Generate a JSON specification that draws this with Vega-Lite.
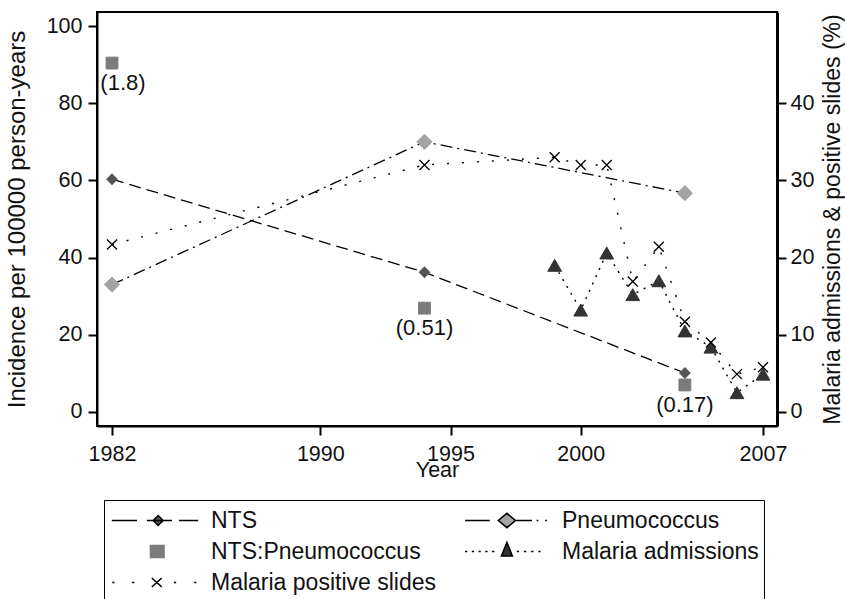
{
  "$schema": "https://vega.github.io/schema/vega-lite/v6.json",
  "width": 680,
  "height": 414,
  "autosize": {"type": "none"},
  "padding": {"left": 97, "top": 12, "right": 68, "bottom": 173},
  "background": "#ffffff",
  "config": {
    "view": {"stroke": "#000000", "strokeWidth": 2},
    "axis": {
      "grid": false,
      "domainColor": "#000000",
      "domainWidth": 2,
      "tickColor": "#000000",
      "tickWidth": 2,
      "tickSize": 9,
      "labelFont": "Liberation Sans",
      "labelFontSize": 21.5,
      "labelColor": "#111111",
      "titleFont": "Liberation Sans",
      "titleFontWeight": "normal",
      "titleColor": "#111111"
    }
  },
  "data": {
    "values": [
      {"series": "NTS", "year": 1982, "value": 60.3},
      {"series": "NTS", "year": 1994, "value": 36.2},
      {"series": "NTS", "year": 2004, "value": 10.1},
      {"series": "Pneumococcus", "year": 1982, "value": 33.0},
      {"series": "Pneumococcus", "year": 1994, "value": 70.0},
      {"series": "Pneumococcus", "year": 2004, "value": 56.7},
      {"series": "NTS:Pneumococcus", "year": 1982, "value": 90.4, "label": "(1.8)"},
      {"series": "NTS:Pneumococcus", "year": 1994, "value": 26.9, "label": "(0.51)"},
      {"series": "NTS:Pneumococcus", "year": 2004, "value": 7.0, "label": "(0.17)"},
      {"series": "Malaria positive slides", "year": 1982, "value": 21.7},
      {"series": "Malaria positive slides", "year": 1994, "value": 32.0},
      {"series": "Malaria positive slides", "year": 1999, "value": 33.0},
      {"series": "Malaria positive slides", "year": 2000, "value": 32.0},
      {"series": "Malaria positive slides", "year": 2001, "value": 32.0},
      {"series": "Malaria positive slides", "year": 2002, "value": 16.9},
      {"series": "Malaria positive slides", "year": 2003, "value": 21.4},
      {"series": "Malaria positive slides", "year": 2004, "value": 11.7},
      {"series": "Malaria positive slides", "year": 2005, "value": 9.0},
      {"series": "Malaria positive slides", "year": 2006, "value": 4.9},
      {"series": "Malaria positive slides", "year": 2007, "value": 5.8},
      {"series": "Malaria admissions", "year": 1999, "value": 19.0},
      {"series": "Malaria admissions", "year": 2000, "value": 13.2},
      {"series": "Malaria admissions", "year": 2001, "value": 20.6},
      {"series": "Malaria admissions", "year": 2002, "value": 15.2},
      {"series": "Malaria admissions", "year": 2003, "value": 17.0},
      {"series": "Malaria admissions", "year": 2004, "value": 10.5},
      {"series": "Malaria admissions", "year": 2005, "value": 8.4},
      {"series": "Malaria admissions", "year": 2006, "value": 2.5},
      {"series": "Malaria admissions", "year": 2007, "value": 4.9}
    ]
  },
  "encoding": {
    "x": {
      "field": "year",
      "type": "quantitative",
      "scale": {"domain": [1981.424, 2007.538], "nice": false, "zero": false},
      "axis": {
        "values": [1982, 1990, 1995, 2000, 2007],
        "format": "d",
        "title": "Year",
        "titleFontSize": 21.5,
        "titlePadding": -5,
        "labelPadding": 8,
        "labelFlush": false
      }
    }
  },
  "layer": [
    {
      "encoding": {
        "y": {
          "field": "value",
          "type": "quantitative",
          "scale": {"domain": [-3.63, 103.63], "nice": false, "zero": false},
          "axis": {
            "orient": "left",
            "values": [0, 20, 40, 60, 80, 100],
            "title": "Incidence per 100000 person-years",
            "titleFontSize": 24,
            "titlePadding": 17,
            "labelPadding": 6
          }
        }
      },
      "layer": [
        {
          "transform": [{"filter": "datum.series === 'NTS' || datum.series === 'Pneumococcus'"}],
          "mark": {"type": "line", "stroke": "#000000", "strokeWidth": 1.3},
          "encoding": {
            "strokeDash": {
              "field": "series",
              "type": "nominal",
              "scale": {
                "domain": ["NTS", "Pneumococcus", "Malaria admissions", "Malaria positive slides"],
                "range": [[12, 6], [12, 5, 2, 5], [2, 6], [2, 13]]
              },
              "legend": null
            }
          }
        },
        {
          "transform": [{"filter": "datum.year < 0"}],
          "mark": {"type": "point", "filled": true, "opacity": 1},
          "encoding": {
            "shape": {
              "field": "series", "type": "nominal",
              "scale": {
                "domain": ["NTS", "Pneumococcus", "NTS:Pneumococcus", "Malaria admissions", "Malaria positive slides"],
                "range": [
                  "M-1,-0.3M1,0.3M-0.96,0H-0.4M-0.18,0H0.38M0.53,0H0.96M0.07,-0.11L0.18,0L0.07,0.11L-0.04,0Z",
                  "M-1,-0.3M1,0.3M-0.91,0H-0.36M0.2,0H0.58M0.68,0H0.72M0.87,0H0.91M0.02,-0.16L0.21,0L0.02,0.16L-0.17,0Z",
                  "M-1,-0.3M1,0.3M-0.1,-0.13H0.2V0.13H-0.1Z",
                  "M-1,-0.3M1,0.3M-0.91,0h0.05M-0.76,0h0.05M-0.61,0h0.05M-0.46,0h0.05M-0.31,0h0.05M0.24,0h0.05M0.4,0h0.05M0.56,0h0.05M0.72,0h0.05M0.02,-0.2L0.14,0.1L-0.1,0.1Z",
                  "M-1,-0.3M1,0.3M-0.95,0h0.05M-0.51,0h0.05M0.42,0h0.05M0.87,0h0.05M-0.07,-0.1L0.15,0.1M-0.07,0.1L0.15,-0.1"
                ]
              }
            },
            "stroke": {
              "field": "series", "type": "nominal",
              "scale": {
                "domain": ["NTS", "Pneumococcus", "NTS:Pneumococcus", "Malaria admissions", "Malaria positive slides"],
                "range": ["#000000", "#000000", "#7b7b7b", "#000000", "#000000"]
              }
            }
          }
        },
        {
          "transform": [{"filter": "datum.series === 'NTS'"}],
          "mark": {"type": "point", "filled": true, "opacity": 1, "size": 140, "shape": "diamond"},
          "encoding": {
            "fill": {
              "field": "series", "type": "nominal",
              "scale": {"domain": ["NTS", "Pneumococcus", "NTS:Pneumococcus", "Malaria admissions", "Malaria positive slides"], "range": ["#555555", "#a3a3a3", "#7b7b7b", "#333333", "#000000"]},
              "legend": {
                "title": null,
                "orient": "none",
                "legendX": 7,
                "legendY": 488,
                "direction": "horizontal",
                "columns": 2,
                "columnPadding": 24,
                "rowPadding": 0,
                "clipHeight": 31,
                "symbolSize": 8100,
                "symbolStrokeWidth": 1.6,
                "symbolOpacity": 1,
                "labelFont": "Liberation Sans",
                "labelFontSize": 23,
                "labelColor": "#111111",
                "labelOffset": 10,
                "labelLimit": 400,
                "padding": 5,
                "strokeColor": "#000000",
                "fillColor": "#ffffff",
                "encode": {
                  "legend": {"strokeWidth": {"value": 1.5}}
                }
              }
            }
          }
        },
        {
          "transform": [{"filter": "datum.series === 'Pneumococcus'"}],
          "mark": {"type": "point", "filled": true, "opacity": 1, "size": 230, "shape": "diamond", "stroke": "#a3a3a3", "strokeWidth": 1},
          "encoding": {
            "fill": {"field": "series", "type": "nominal"}
          }
        },
        {
          "transform": [{"filter": "datum.series === 'NTS:Pneumococcus'"}],
          "mark": {"type": "point", "filled": true, "opacity": 1, "size": 140, "shape": "square", "stroke": "#7b7b7b", "strokeWidth": 1},
          "encoding": {
            "fill": {"field": "series", "type": "nominal"}
          }
        },
        {
          "transform": [{"filter": "datum.label != null"}],
          "mark": {"type": "text", "font": "Liberation Sans", "fontSize": 22, "fill": "#111111", "baseline": "middle", "align": "center", "dy": 20, "dx": {"expr": "datum.year < 1985 ? 11 : 0"}},
          "encoding": {"text": {"field": "label", "type": "nominal"}}
        }
      ]
    },
    {
      "encoding": {
        "y": {
          "field": "value",
          "type": "quantitative",
          "scale": {"domain": [-1.815, 51.815], "nice": false, "zero": false},
          "axis": {
            "orient": "right",
            "values": [0, 10, 20, 30, 40],
            "title": "Malaria admissions & positive slides (%)",
            "titleFontSize": 23,
            "titleAngle": -90,
            "titleBaseline": "top",
            "titlePadding": 8,
            "labelPadding": 4,
            "domainWidth": 3
          }
        }
      },
      "layer": [
        {
          "transform": [{"filter": "datum.series === 'Malaria admissions' || datum.series === 'Malaria positive slides'"}],
          "mark": {"type": "line", "stroke": "#000000", "strokeWidth": 1.4},
          "encoding": {
            "strokeDash": {"field": "series", "type": "nominal", "legend": null}
          }
        },
        {
          "transform": [{"filter": "datum.series === 'Malaria admissions'"}],
          "mark": {"type": "point", "filled": true, "opacity": 1, "size": 190, "shape": "triangle-up", "stroke": "#333333", "strokeWidth": 1},
          "encoding": {
            "fill": {"field": "series", "type": "nominal"}
          }
        },
        {
          "transform": [{"filter": "datum.series === 'Malaria positive slides'"}],
          "mark": {"type": "point", "filled": true, "opacity": 1, "size": 100, "shape": "M-1,-1L1,1M-1,1L1,-1", "stroke": "#000000", "strokeWidth": 1.3},
          "encoding": {
            "fill": {"field": "series", "type": "nominal"}
          }
        }
      ]
    }
  ],
  "resolve": {"scale": {"y": "independent"}}
}
